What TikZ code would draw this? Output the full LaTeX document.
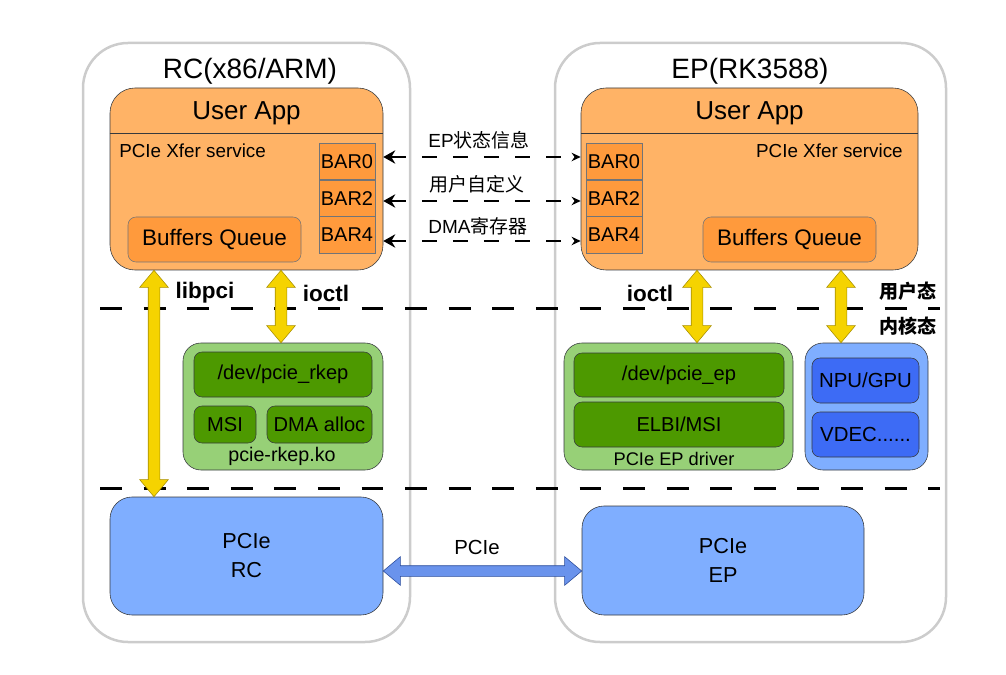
\documentclass[tikz,border=0pt]{standalone}
\usepackage{fontspec}
\setmainfont{Liberation Sans}
\newfontfamily\cjk{Noto Sans CJK SC}
\usetikzlibrary{arrows.meta,calc,positioning,shapes.arrows}
\definecolor{grayline}{HTML}{CCCCCC}
\definecolor{appfill}{HTML}{FFB366}
\definecolor{barfill}{HTML}{FF9A3C}
\definecolor{edge}{HTML}{36393D}
\definecolor{drvfill}{HTML}{97D077}
\definecolor{devfill}{HTML}{4D9900}
\definecolor{hwfill}{HTML}{7FAEFF}
\definecolor{accfill}{HTML}{3D6BF5}
\definecolor{ioyellow}{HTML}{F5D300}
\definecolor{iodark}{HTML}{A88F00}
\definecolor{linkblue}{HTML}{6A93EC}
\definecolor{linkdark}{HTML}{2B4C9B}
\newlength\pxu
\setlength\pxu{0.025cm}

\begin{document}
\begin{tikzpicture}[x=0.025cm,y=-0.025cm,
  frame/.style={draw=grayline,line width=2.5\pxu,rounded corners=45\pxu,inner sep=0pt},
  app/.style={draw=edge,fill=appfill,rounded corners=25\pxu,inner sep=0pt},
  bar/.style={draw=edge!70,fill=barfill,minimum width=56\pxu,minimum height=36.3\pxu,inner sep=0pt,font=\fontsize{14.2}{17}\selectfont},
  buf/.style={draw=edge!70,fill=barfill,rounded corners=8\pxu,minimum width=173\pxu,minimum height=45\pxu,inner sep=0pt,font=\fontsize{16}{19}\selectfont},
  drv/.style={draw=edge,fill=drvfill,rounded corners=18\pxu,minimum height=127\pxu,inner sep=0pt},
  dev/.style={draw=edge,fill=devfill,rounded corners=8\pxu,inner sep=0pt,font=\fontsize{14.3}{17}\selectfont},
  acc/.style={draw=edge,fill=accfill,rounded corners=8\pxu,minimum width=107\pxu,minimum height=45\pxu,inner sep=0pt,font=\fontsize{14.5}{17}\selectfont},
  hw/.style={draw=edge,fill=hwfill,rounded corners=22\pxu,inner sep=0pt,align=center,font=\fontsize{15.4}{20.6}\selectfont},
  title/.style={font=\fontsize{19.9}{24}\selectfont},
  head/.style={font=\fontsize{18.5}{22}\selectfont},
  note/.style={inner sep=0pt,font=\fontsize{13.4}{16}\selectfont},
  msg/.style={font=\fontsize{13.5}{16}\selectfont},
  api/.style={font=\bfseries\fontsize{16}{19}\selectfont},
  mode/.style={font=\cjk\bfseries\fontsize{13.5}{16}\selectfont},
  sep/.style={line width=3\pxu,dash pattern=on 15.6pt off 15.4pt},
  bus/.style={line width=2\pxu,dash pattern=on 10.7pt off 11.4pt,{Stealth[length=8.5pt,width=9.5pt]}-{Stealth[length=6.5pt,width=6pt]}},
  yarr/.style={double arrow,draw=iodark,fill=ioyellow,rotate=90,inner sep=5.5\pxu,double arrow head extend=8.5\pxu,double arrow head indent=0pt,double arrow tip angle=80},
  barr/.style={double arrow,draw=linkdark,fill=linkblue,inner sep=5\pxu,double arrow head extend=9\pxu,double arrow head indent=0pt,double arrow tip angle=80}
]
  \useasboundingbox (0,0) rectangle (1006,675);

  % RC side
  \node[frame,minimum width=327\pxu,minimum height=599\pxu] (rc) at (246.5,342.5) {};
  \node[title] (rctitle) at (250,71) {RC(x86/ARM)};
  \node[app,minimum width=273\pxu,minimum height=182\pxu] (rcapp) at (246.5,179) {};
  \node[head] (rcapphead) at ($(rcapp.north)+(0,26)$) {User App};
  \draw[edge] ($(rcapp.north west)+(0,46)$) -- ($(rcapp.north east)+(0,46)$);
  \node[note,anchor=west] (rcxfer) at (119,151) {PCIe Xfer service};
  \node[bar] (rcbar0) at (347,161.2) {BAR0};
  \node[bar,below=0pt of rcbar0] (rcbar2) {BAR2};
  \node[bar,below=0pt of rcbar2] (rcbar4) {BAR4};
  \node[buf] (rcbuf) at (214.5,239.5) {Buffers Queue};
  \node[drv,minimum width=200\pxu] (rcdrv) at (283,406.5) {};
  \node[dev,minimum width=178\pxu,minimum height=45\pxu] (rcdev) at (283,374.5) {/dev/pcie\_rkep};
  \node[dev,minimum width=62\pxu,minimum height=37\pxu] (rcmsi) at (225,424.5) {MSI};
  \node[dev,minimum width=105\pxu,minimum height=37\pxu] (rcdma) at (319.5,424.5) {DMA alloc};
  \node[note,font=\fontsize{14}{16}\selectfont] (rcko) at (282,456) {pcie-rkep.ko};
  \node[hw,minimum width=273\pxu,minimum height=118\pxu] (rcpcie) at (246.5,556) {PCIe\\RC};

  % EP side
  \node[frame,minimum width=391\pxu,minimum height=599\pxu] (ep) at (750.5,342.5) {};
  \node[title] (eptitle) at (750,71) {EP(RK3588)};
  \node[app,minimum width=337\pxu,minimum height=182\pxu] (epapp) at (749.5,179) {};
  \node[head] (epapphead) at ($(epapp.north)+(0,26)$) {User App};
  \draw[edge] ($(epapp.north west)+(0,46)$) -- ($(epapp.north east)+(0,46)$);
  \node[note,anchor=east] (epxfer) at (903,151) {PCIe Xfer service};
  \node[bar] (epbar0) at (614,161.2) {BAR0};
  \node[bar,below=0pt of epbar0] (epbar2) {BAR2};
  \node[bar,below=0pt of epbar2] (epbar4) {BAR4};
  \node[buf] (epbuf) at (789.5,239.5) {Buffers Queue};
  \node[drv,minimum width=229\pxu] (epdrv) at (678.5,406.5) {};
  \node[dev,minimum width=210\pxu,minimum height=44\pxu] (epdev) at (679,375) {/dev/pcie\_ep};
  \node[dev,minimum width=210\pxu,minimum height=45\pxu] (epelbi) at (679,424.5) {ELBI/MSI};
  \node[note,font=\fontsize{13}{16}\selectfont] (epko) at (674,459) {PCIe EP driver};
  \node[drv,fill=hwfill,minimum width=123\pxu] (epacc) at (866.5,406.5) {};
  \node[acc] (epnpu) at (865.5,380.5) {NPU/GPU};
  \node[acc] (epvdec) at (865.5,434.5) {VDEC......};
  \node[hw,minimum width=282\pxu,minimum height=109\pxu] (eppcie) at (723,560.5) {PCIe\\EP};

  % user / kernel / hardware split
  \coordinate (sepa) at (100,309);
  \coordinate (sepb) at (940,309);
  \coordinate (sepc) at (100,488);
  \coordinate (sepd) at (940,488);
  \draw[sep] (sepa) -- (sepb);
  \draw[sep] (sepc) -- (sepd);
  \node[mode] (usr) at (908,291) {用户态};
  \node[mode] (krn) at (908,326) {内核态};

  % BAR windows
  \coordinate (m0) at (0,157);
  \coordinate (m1) at (0,201);
  \coordinate (m2) at (0,241);
  \draw[bus] (rcapp.east |- m0) -- (epapp.west |- m0);
  \draw[bus] (rcapp.east |- m1) -- (epapp.west |- m1);
  \draw[bus] (rcapp.east |- m2) -- (epapp.west |- m2);
  \node[msg] (m0txt) at (479,140) {EP{\cjk 状态信息}};
  \node[msg] (m1txt) at (477,184) {\cjk 用户自定义};
  \node[msg] (m2txt) at (478,226) {DMA{\cjk 寄存器}};

  % user <-> kernel
  \coordinate (xlib) at (154,0);
  \coordinate (xrc) at (281,0);
  \coordinate (xep) at (697,0);
  \coordinate (xacc) at (841,0);
  \path let \p1=(rcapp.south -| xlib), \p2=(rcpcie.north -| xlib) in
    node[yarr,minimum height=\y1-\y2] (libpci) at ($(\p1)!.5!(\p2)$) {};
  \path let \p1=(rcapp.south -| xrc), \p2=(rcdrv.north -| xrc) in
    node[yarr,minimum height=\y1-\y2] (rcioctl) at ($(\p1)!.5!(\p2)$) {};
  \path let \p1=(epapp.south -| xep), \p2=(epdrv.north -| xep) in
    node[yarr,minimum height=\y1-\y2] (epioctl) at ($(\p1)!.5!(\p2)$) {};
  \path let \p1=(epapp.south -| xacc), \p2=(epacc.north -| xacc) in
    node[yarr,minimum height=\y1-\y2] (epaccio) at ($(\p1)!.5!(\p2)$) {};
  \node[api] (libpcitxt) at (205,293) {libpci};
  \node[api] (rcioctltxt) at (326,293) {ioctl};
  \node[api] (epioctltxt) at (650,293) {ioctl};

  % PCIe link
  \coordinate (ylink) at (0,571);
  \path let \p1=(rcpcie.east |- ylink), \p2=(eppcie.west |- ylink) in
    node[barr,minimum height=\x2-\x1] (pcielink) at ($(\p1)!.5!(\p2)$) {};
  \node[msg,font=\fontsize{14.5}{17}\selectfont] (linktxt) at (477,547) {PCIe};
\end{tikzpicture}
\end{document}
